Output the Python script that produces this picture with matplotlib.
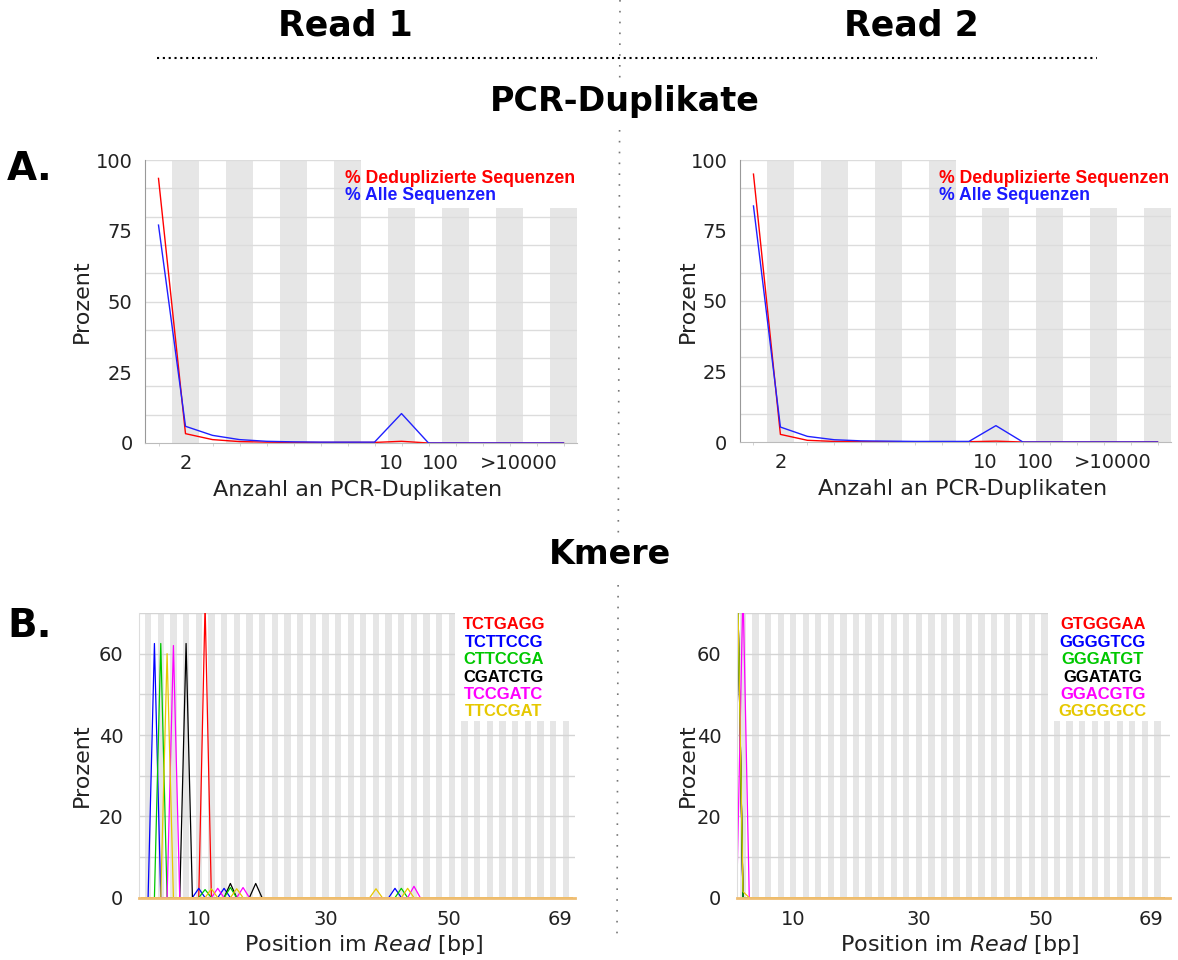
import numpy as np
import matplotlib.pyplot as plt
from matplotlib.lines import Line2D
from matplotlib.patches import Rectangle

W, H = 1178, 960

# Duplikationslevel (16 Kategorien wie bei FastQC)
dup_kategorien = ['1', '2', '3', '4', '5', '6', '7', '8', '9',
                  '>10', '>50', '>100', '>500', '>1k', '>5k', '>10k']
dup_r1_dedupliziert = [93.5, 3.3, 1.2, 0.5, 0.3, 0.2, 0.2, 0.2, 0.2, 0.6, 0, 0, 0, 0, 0, 0]
dup_r1_alle = [77.0, 5.9, 2.7, 1.2, 0.6, 0.4, 0.3, 0.3, 0.3, 10.4, 0, 0, 0, 0, 0, 0]
dup_r2_dedupliziert = [95.0, 2.7, 0.6, 0.2, 0.1, 0.1, 0.1, 0.1, 0.1, 0.3, 0, 0, 0, 0, 0, 0]
dup_r2_alle = [83.7, 5.3, 2.0, 0.8, 0.4, 0.3, 0.2, 0.2, 0.2, 5.8, 0, 0, 0, 0, 0, 0]
dup_tick_pos = [1, 8.6, 10.45, 13.35]
dup_tick_labels = ['2', '10', '100', '>10000']

# Kmere: Position (1..69) -> Prozent, nur Werte ungleich 0
n_pos = 69
kmer_r1_namen = ['TCTGAGG', 'TCTTCCG', 'CTTCCGA', 'CGATCTG', 'TCCGATC', 'TTCCGAT']
kmer_r1_pos = [[11], [3, 10, 14, 41], [4, 11, 15, 42], [8, 15, 19],
               [6, 13, 17, 44], [5, 12, 16, 38, 43]]
kmer_r1_werte = [[72], [62.5, 2.3, 2.3, 2.3], [62.5, 2.0, 2.5, 2.3], [62.5, 3.5, 3.5],
                 [62, 2.3, 2.5, 2.8], [60, 2.2, 2.2, 2.2, 2.3]]
kmer_r2_namen = ['GTGGGAA', 'GGGGTCG', 'GGGATGT', 'GGATATG', 'GGACGTG', 'GGGGGCC']
kmer_r2_pos = [[1], [1], [1], [1], [2], [1, 2]]
kmer_r2_werte = [[90], [90], [90], [90], [76], [90, 1.5]]
kmer_farben = ['#ff0000', '#0000ff', '#00c800', '#000000', '#ff00ff', '#e6c800']
kmer_ticks = [10, 30, 49.5, 67]
kmer_tick_labels = ['10', '30', '50', '69']

plt.rcParams['font.family'] = 'DejaVu Sans'
fig = plt.figure(figsize=(W / 100, H / 100), dpi=100)


def px_rect(l, t, r, b):
    return [l / W, 1 - b / H, (r - l) / W, (b - t) / H]


def dup_plot(rect, dedup, alle, ylab_x, xlab_x):
    ax = fig.add_axes(px_rect(*rect))
    x = np.arange(len(dup_kategorien))
    for i in x:
        if i % 2 == 1:
            ax.axvspan(i - 0.5, i + 0.5, color='#e6e6e6', lw=0, zorder=0)
    for yv in range(10, 101, 10):
        ax.axhline(yv, color='#dcdcdc', lw=1, zorder=0.5)
    # weisser Kasten hinter der Legende
    ax.add_patch(Rectangle((7.5, 83), 8.5, 20, facecolor='white', edgecolor='none', zorder=0.8))
    ax.plot(x, dedup, color='#ff0000', lw=1.0, zorder=2)
    ax.plot(x, alle, color='#2020ff', lw=1.0, zorder=2)
    ax.text(6.9, 93.6, '% Deduplizierte Sequenzen', color='#ff0000', fontsize=12.7,
            fontweight='bold', family='Liberation Sans', va='center', zorder=3)
    ax.text(6.9, 87.3, '% Alle Sequenzen', color='#1a1aff', fontsize=12.7,
            fontweight='bold', family='Liberation Sans', va='center', zorder=3)
    ax.set_xlim(-0.5, 15.5)
    ax.set_ylim(0, 100)
    ax.set_yticks([0, 25, 50, 75, 100])
    ax.set_xticks(dup_tick_pos)
    ax.set_xticklabels(dup_tick_labels)
    ax.set_xticks(x, minor=True)
    ax.tick_params(axis='both', which='major', length=0, labelsize=14, colors='#222222')
    ax.tick_params(axis='x', which='major', pad=8)
    ax.tick_params(axis='y', which='major', pad=9)
    ax.tick_params(axis='x', which='minor', length=2, color='#cccccc')
    for s in ['top', 'right']:
        ax.spines[s].set_visible(False)
    ax.spines['left'].set_color('#999999')
    ax.spines['bottom'].set_color('#bbbbbb')
    ax.set_xlabel('Anzahl an PCR-Duplikaten', fontsize=16, color='#222222', va='center')
    ax.xaxis.set_label_coords(xlab_x, -0.166)
    ax.set_ylabel('Prozent', fontsize=16, color='#222222', va='center')
    ax.yaxis.set_label_coords(ylab_x, 0.5)
    return ax


def kmer_plot(rect, xlim, namen, pos, werte, leg_x, ylab_x):
    ax = fig.add_axes(px_rect(*rect))
    p = np.arange(1, n_pos + 1)
    for i in p:
        if i % 2 == 0:
            ax.axvspan(i - 0.5, i + 0.5, color='#e6e6e6', lw=0, zorder=0)
    for yv in range(10, 71, 10):
        ax.axhline(yv, color='#d4d4d4', lw=1, zorder=0.5)
    ax.add_patch(Rectangle((50.5, 43.5), 25, 30, facecolor='white', edgecolor='none', zorder=0.8))
    reihenfolge = [0, 1, 3, 2, 4, 5]
    for k in reihenfolge:
        y = np.zeros(n_pos)
        y[np.array(pos[k]) - 1] = werte[k]
        ax.plot(p, y, color=kmer_farben[k], lw=0.9, zorder=2)
    leg_y = [67.1, 62.8, 58.5, 54.2, 49.9, 45.8]
    for k, name in enumerate(namen):
        ax.text(leg_x, leg_y[k], name, color=kmer_farben[k], fontsize=12,
                fontweight='bold', family='Liberation Sans', ha='center', va='center',
                zorder=3)
    ax.set_xlim(*xlim)
    ax.set_ylim(0, 70)
    ax.set_yticks([0, 20, 40, 60])
    ax.set_xticks(kmer_ticks)
    ax.set_xticklabels(kmer_tick_labels)
    ax.tick_params(axis='both', length=0, labelsize=14, colors='#222222')
    ax.tick_params(axis='x', pad=9)
    ax.tick_params(axis='y', pad=11)
    for s in ['top', 'right']:
        ax.spines[s].set_visible(False)
    ax.spines['left'].set_color('#dddddd')
    ax.spines['bottom'].set_color('#efbd72')
    ax.spines['bottom'].set_linewidth(2)
    ax.set_xlabel(r'Position im $\mathit{Read}$ [bp]', fontsize=16, color='#222222', va='center')
    ax.xaxis.set_label_coords(0.514, -0.166)
    ax.set_ylabel('Prozent', fontsize=16, color='#222222', va='center')
    ax.yaxis.set_label_coords(ylab_x, 0.466)
    return ax


dup_plot((145, 160, 577, 443), dup_r1_dedupliziert, dup_r1_alle, -0.146, 0.491)
dup_plot((740, 160, 1171, 442), dup_r2_dedupliziert, dup_r2_alle, -0.121, 0.516)
kmer_plot((138.6, 613, 575.4, 897.7), (0.5, 69.5), kmer_r1_namen, kmer_r1_pos,
          kmer_r1_werte, 58.2, -0.13)
kmer_plot((736.7, 613, 1170, 897.7), (1, 70), kmer_r2_namen, kmer_r2_pos,
          kmer_r2_werte, 59.3, -0.112)

# gepunktete Trennlinien
fig.add_artist(Line2D([620 / W, 617 / W], [1.0, 1 - 935 / H], transform=fig.transFigure,
                      color='#777777', lw=1.2, linestyle=(0, (1, 5.5)), zorder=0))
fig.add_artist(Line2D([157 / W, 1097 / W], [1 - 58 / H] * 2, transform=fig.transFigure,
                      color='black', lw=1.5, linestyle=(0, (1, 1.8))))

box = dict(facecolor='white', edgecolor='none', pad=3)
fig.text(345 / W, 1 - 26 / H, 'Read 1', fontsize=25, fontweight='bold', ha='center', va='center')
fig.text(911 / W, 1 - 26 / H, 'Read 2', fontsize=25, fontweight='bold', ha='center', va='center')
fig.text(625 / W, 1 - 102 / H, 'PCR-Duplikate', fontsize=24, fontweight='bold',
         ha='center', va='center', bbox=box)
fig.text(610 / W, 1 - 555 / H, 'Kmere', fontsize=24, fontweight='bold',
         ha='center', va='center', bbox=box)
fig.text(30 / W, 1 - 169 / H, 'A.', fontsize=28, fontweight='bold', ha='center', va='center')
fig.text(30 / W, 1 - 626 / H, 'B.', fontsize=28, fontweight='bold', ha='center', va='center')

fig.savefig('out.png', dpi=100)
